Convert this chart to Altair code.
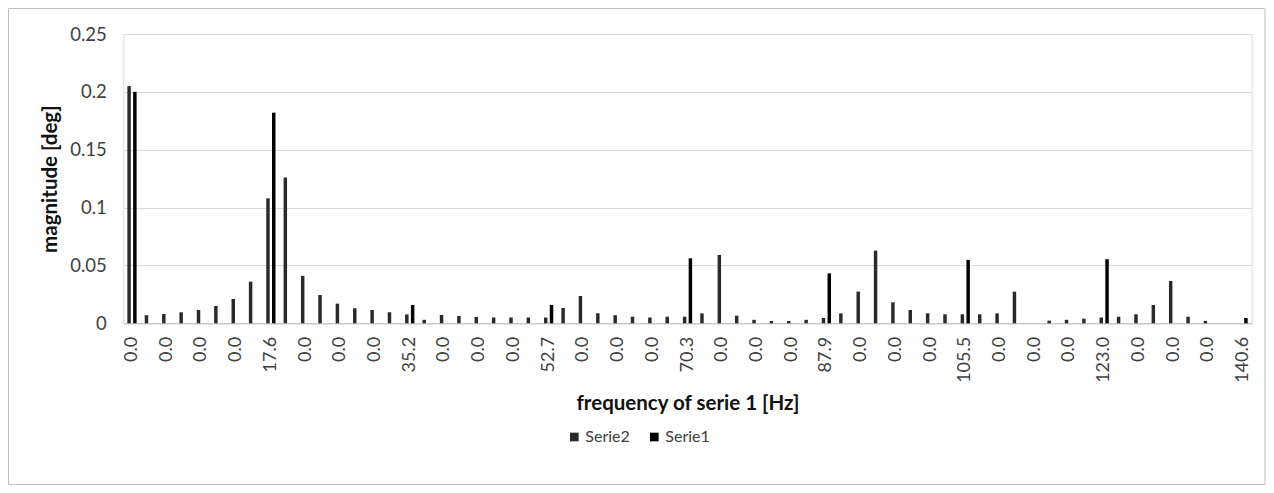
import json
import altair as alt
import pandas as pd

# x tick labels (shown on every 2nd category)
tick_labels = ["0.0", "0.0", "0.0", "0.0", "17.6", "0.0", "0.0", "0.0", "35.2",
               "0.0", "0.0", "0.0", "52.7", "0.0", "0.0", "0.0", "70.3",
               "0.0", "0.0", "0.0", "87.9", "0.0", "0.0", "0.0", "105.5",
               "0.0", "0.0", "0.0", "123.0", "0.0", "0.0", "0.0", "140.6"]

n_categories = 65

# Serie2: one value per category (None = no bar)
serie2 = [0.205, 0.007, 0.008, 0.0095, 0.0115, 0.015, 0.021, 0.036,
          0.108, 0.126, 0.041, 0.0245, 0.017, 0.013, 0.0115, 0.0095,
          0.0077, 0.003, 0.0072, 0.0063, 0.0055, 0.005, 0.005, 0.005,
          0.005, 0.0132, 0.0236, 0.0086, 0.007, 0.0057, 0.005, 0.0057,
          0.0057, 0.0086, 0.0591, 0.0066, 0.003, 0.002, 0.002, 0.003,
          0.0046, 0.0086, 0.0274, 0.0628, 0.0182, 0.0115, 0.0086, 0.0078,
          0.0078, 0.0078, 0.0086, 0.0274, None, 0.0023, 0.003, 0.004,
          0.005, 0.0057, 0.0078, 0.0158, 0.0366, 0.0057, 0.002, None, None]

# Serie1: values on categories 0, 8, 16, ... 64
serie1_cats = [0, 8, 16, 24, 32, 40, 48, 56, 64]
serie1 = [0.200, 0.182, 0.0158, 0.0158, 0.0562, 0.0432, 0.0548, 0.0554, 0.0046]

rows = []
for i, v in enumerate(serie2):
    if v is not None:
        rows.append({"cat": i, "series": "Serie2", "value": v})
for c, v in zip(serie1_cats, serie1):
    rows.append({"cat": c, "series": "Serie1", "value": v})
df = pd.DataFrame(rows)

W = 1128.4
H = 289.3
FONT = "Lato"

label_expr = json.dumps(tick_labels) + "[datum.value / 2]"

bars = alt.Chart(df).mark_bar().encode(
    x=alt.X("cat:O",
            scale=alt.Scale(domain=list(range(n_categories)), paddingInner=0, paddingOuter=0),
            axis=alt.Axis(title="frequency of serie 1 [Hz]",
                          values=list(range(0, n_categories, 2)),
                          labelExpr=label_expr,
                          labelAngle=270, labelAlign="right", labelBaseline="middle",
                          labelPadding=13, labelFont=FONT, labelFontSize=18,
                          labelColor="#404040", ticks=False,
                          domainColor="#bfbfbf", domainWidth=1,
                          titleFont=FONT, titleFontSize=20.5, titleFontWeight="bold",
                          titleColor="#111111", titleX=W / 2, titleY=80,
                          titleBaseline="middle", titleAlign="center")),
    xOffset=alt.XOffset("series:N",
                        scale=alt.Scale(domain=["Serie2", "Serie1"], paddingInner=0.4, paddingOuter=0.7)),
    y=alt.Y("value:Q",
            scale=alt.Scale(domain=[0, 0.25], nice=False),
            axis=alt.Axis(title="magnitude [deg]",
                          values=[0, 0.05, 0.1, 0.15, 0.2, 0.25],
                          format=".2~f", labelFont=FONT, labelFontSize=18.5,
                          labelColor="#404040", labelPadding=17,
                          ticks=False, domain=False,
                          grid=True, gridColor="#d9d9d9", gridWidth=1,
                          titleFont=FONT, titleFontSize=20.5, titleFontWeight="bold",
                          titleColor="#111111", titleX=-73, titleY=H / 2,
                          titleAngle=270, titleBaseline="middle", titleAlign="center")),
    color=alt.Color("series:N",
                    scale=alt.Scale(domain=["Serie2", "Serie1"], range=["#2a2a2a", "#000000"]),
                    legend=alt.Legend(title=None, orient="none", direction="horizontal",
                                      legendX=443, legendY=395,
                                      symbolType="square", symbolSize=75,
                                      labelFont=FONT, labelFontSize=16, labelColor="#404040",
                                      columnPadding=16, labelOffset=3)),
)

frame = alt.Chart(alt.Data(values=[{}])).mark_rect(
    fill=None, stroke="#bfbfbf", strokeWidth=1
).encode(
    x=alt.value(-114.8), x2=alt.value(1141.7),
    y=alt.value(-25.5), y2=alt.value(450.5),
)

chart = alt.layer(frame, bars).properties(
    width=W, height=H,
    autosize=alt.AutoSizeParams(type="none"),
    padding={"left": 115.3, "top": 26, "right": 14.3, "bottom": 161.7},
).configure_view(stroke=None).configure(background="white")

chart.save("out.html", embed_options={"renderer": "svg", "actions": False})
